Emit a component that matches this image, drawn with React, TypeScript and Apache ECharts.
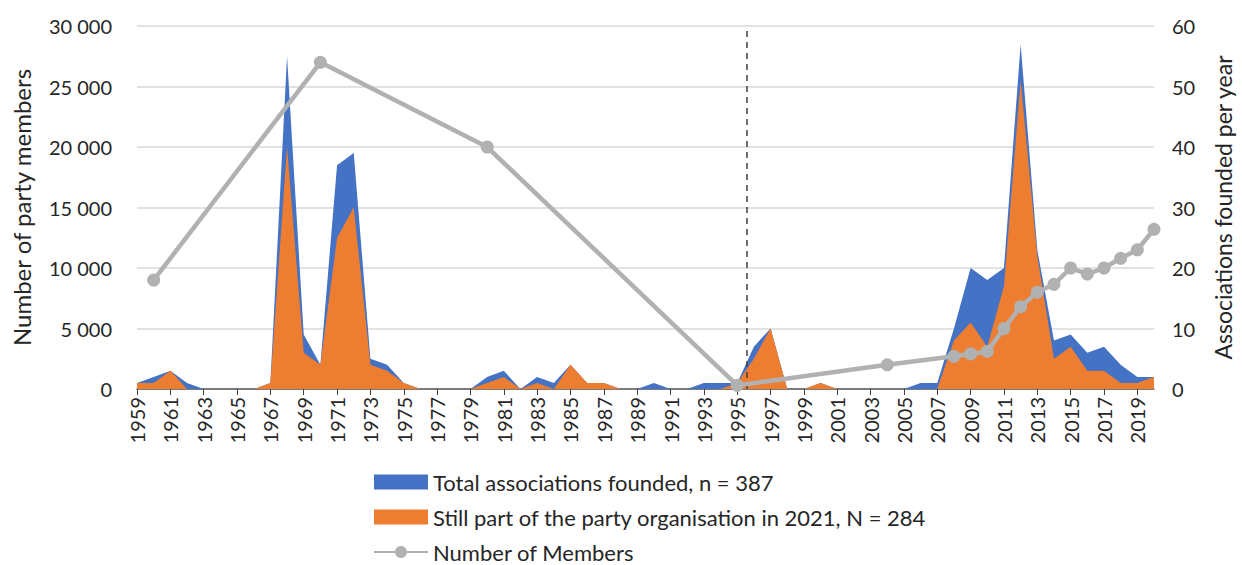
import React, { useEffect, useRef } from "react";
import * as echarts from "echarts";

const years: string[] = [];
for (let y = 1959; y <= 2020; y++) years.push(String(y));

// Associations founded per year (right axis)
const totalFounded = [
  1, 2, 3, 1, 0, 0, 0, 0, 1, 55, 9, 4, 37, 39, 5, 4, 1, 0, 0, 0, 0,
  2, 3, 0, 2, 1, 4, 1, 1, 0, 0, 1, 0, 0, 1, 1, 1, 7, 10, 0, 0, 1,
  0, 0, 0, 0, 0, 1, 1, 10, 20, 18, 20, 57, 23, 8, 9, 6, 7, 4, 2, 2,
];
const stillPart = [
  1, 1, 3, 0, 0, 0, 0, 0, 1, 40, 6, 4, 25, 30, 4, 3, 1, 0, 0, 0, 0,
  1, 2, 0, 1, 0, 4, 1, 1, 0, 0, 0, 0, 0, 0, 0, 1, 5, 10, 0, 0, 1,
  0, 0, 0, 0, 0, 0, 0, 8, 11, 7, 17, 51, 22, 5, 7, 3, 3, 1, 1, 2,
];

// Number of party members (left axis), by year
const memberYears = [1960, 1970, 1980, 1995, 2004, 2008, 2009, 2010, 2011, 2012, 2013, 2014, 2015, 2016, 2017, 2018, 2019, 2020];
const memberValues = [9000, 27000, 20000, 300, 2000, 2700, 2900, 3100, 5000, 6800, 8000, 8650, 10000, 9500, 10000, 10800, 11500, 13200];

const dividerYear = 1995.6;

const FONT = "Lato";
const TEXT = "#262626";

export default function App() {
  const ref = useRef<HTMLDivElement>(null);
  useEffect(() => {
    if (!ref.current) return;
    document.body.style.margin = "0";
    document.body.style.overflow = "hidden";
    const chart = echarts.init(ref.current, undefined, { renderer: "svg", width: 1242, height: 565 });
    const memberSeries = years.map((y) => {
      const i = memberYears.indexOf(Number(y));
      return i >= 0 ? memberValues[i] : null;
    });
    const fmt = (v: number) => String(v).replace(/\B(?=(\d{3})+(?!\d))/g, " ");
    chart.setOption({
      animation: false,
      textStyle: { fontFamily: FONT },
      grid: {
        left: 137,
        right: 88,
        top: 26,
        bottom: 176,
        containLabel: false,
        outerBoundsMode: "none",
      },
      legend: {
        orient: "vertical",
        left: 373,
        top: 471,
        height: 100,
        padding: 0,
        itemWidth: 54,
        itemHeight: 15,
        itemGap: 13,
        data: [
          { name: "Total associations founded, n = 387", icon: "rect" },
          { name: "Still part of the party organisation in 2021, N = 284", icon: "rect" },
          { name: "Number of Members" },
        ],
        textStyle: { fontFamily: FONT, fontSize: 22, color: TEXT, lineHeight: 20 },
      },
      xAxis: [
        {
          type: "category",
          data: years,
          boundaryGap: false,
          axisLine: { lineStyle: { color: "#595959", width: 1.5 } },
          axisTick: { show: true, interval: 1, length: 6, lineStyle: { color: "#404040" } },
          axisLabel: {
            interval: 1,
            rotate: 90,
            fontFamily: FONT,
            fontSize: 20,
            color: TEXT,
            margin: 8,
          },
          splitLine: { show: false },
        },
        {
          type: "value",
          min: 1959,
          max: 2020,
          show: false,
        },
      ],
      yAxis: [
        {
          type: "value",
          min: 0,
          max: 30000,
          interval: 5000,
          name: "Number of party members",
          nameLocation: "middle",
          nameRotate: 90,
          nameGap: 104,
          nameTextStyle: { fontFamily: FONT, fontSize: 24, color: TEXT },
          axisLine: { show: false },
          axisTick: { show: false },
          axisLabel: { fontFamily: FONT, fontSize: 20, color: TEXT, margin: 25, formatter: fmt },
          splitLine: { lineStyle: { color: "#D9D9D9", width: 1.5 } },
        },
        {
          type: "value",
          min: 0,
          max: 60,
          interval: 10,
          name: "Associations founded per year",
          nameLocation: "middle",
          nameRotate: 90,
          nameGap: 57,
          nameTextStyle: { fontFamily: FONT, fontSize: 23, color: TEXT },
          axisLine: { show: false },
          axisTick: { show: false },
          axisLabel: { fontFamily: FONT, fontSize: 20, color: TEXT, margin: 18 },
          splitLine: { show: false },
        },
      ],
      series: [
        {
          name: "Total associations founded, n = 387",
          type: "line",
          yAxisIndex: 1,
          data: totalFounded,
          symbol: "none",
          lineStyle: { width: 0 },
          itemStyle: { color: "#4472C4" },
          areaStyle: { color: "#4472C4", opacity: 1 },
          z: 2,
        },
        {
          name: "Still part of the party organisation in 2021, N = 284",
          type: "line",
          yAxisIndex: 1,
          data: stillPart,
          symbol: "none",
          lineStyle: { width: 0 },
          itemStyle: { color: "#ED7D31" },
          areaStyle: { color: "#ED7D31", opacity: 1 },
          z: 3,
        },
        {
          name: "divider",
          type: "line",
          xAxisIndex: 1,
          yAxisIndex: 1,
          data: [[dividerYear, 0]],
          symbol: "none",
          showSymbol: false,
          lineStyle: { width: 0 },
          silent: true,
          markLine: {
            silent: true,
            symbol: "none",
            label: { show: false },
            lineStyle: { color: "#404040", type: [6, 5], width: 1.5 },
            data: [{ xAxis: dividerYear }],
          },
          z: 4,
        },
        {
          name: "Number of Members",
          type: "line",
          yAxisIndex: 0,
          data: memberSeries,
          connectNulls: true,
          symbol: "circle",
          symbolSize: 13,
          showSymbol: true,
          showAllSymbol: true,
          lineStyle: { color: "#B0B1B3", width: 4.5 },
          itemStyle: { color: "#B0B1B3" },
          z: 5,
        },
      ],
    });
    return () => chart.dispose();
  }, []);
  return <div ref={ref} style={{ width: 1242, height: 565 }} />;
}
